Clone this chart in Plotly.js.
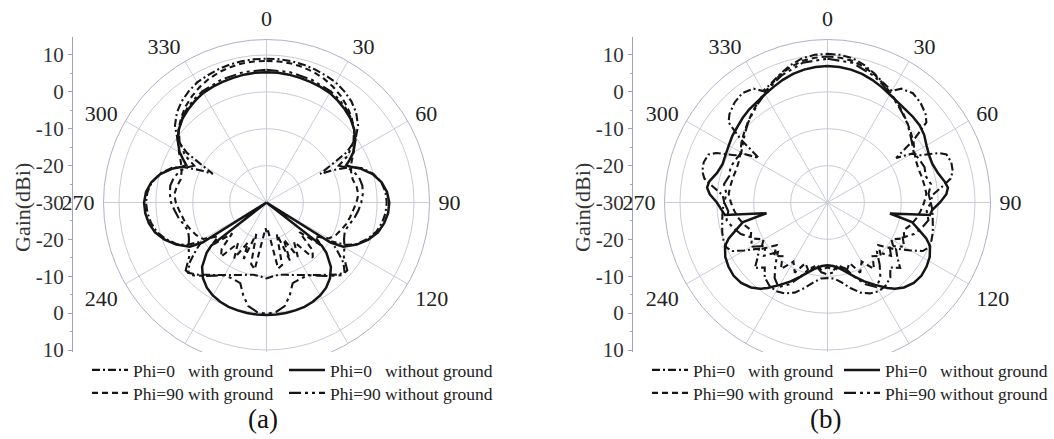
<!DOCTYPE html>
<html>
<head>
<meta charset="utf-8">
<script src="https://cdn.plot.ly/plotly-3.0.1.min.js"></script>
<style>html,body{margin:0;padding:0;background:#fff}#chart{width:1054px;height:439px}</style>
</head>
<body>
<div id="chart"></div>
<script>
// ---------- data (gain in dBi vs. theta in degrees) ----------
// (a)
const a_p0_nog_theta = [0,5,10,15,20,25,30,35,40,45,50,55,60,63,65,67,70,75,80,85,90,95,100,105,110,115,120,122,124,126,128,130,135,140,145,150,155,160,165,170,175,180,
  185,190,195,200,205,210,215,220,225,230,232,234,236,238,240,245,250,255,260,265,270,275,280,285,290,293,295,297,300,305,310,315,320,325,330,335,340,345,350,355,360];
const a_p0_nog_r = [5.3,5.3,5.2,5.0,4.8,4.6,4.3,3.7,3.0,2.2,1.0,-0.6,-2.8,-4.8,-6.2,-5.2,-3.0,-0.2,1.7,2.8,3.3,3.1,2.4,1.3,-0.6,-3.0,-6.0,-9.5,-30,-30,-11,-8.8,-5.3,-3.2,-1.8,-0.9,-0.3,0.1,0.3,0.4,0.5,0.5,
  0.5,0.4,0.3,0.1,-0.3,-0.9,-1.8,-3.2,-5.3,-8.8,-11,-30,-30,-9.5,-6.0,-3.0,-0.6,1.3,2.4,3.0,3.2,2.8,1.7,-0.2,-3.0,-5.2,-6.0,-4.8,-2.8,-0.6,1.0,2.2,3.0,3.7,4.3,4.6,4.8,5.0,5.2,5.3,5.3];

const a_p0_g_theta = [0,5,10,15,20,25,30,35,40,45,50,55,58,62,64,67,70,75,80,85,90,95,100,105,110,115,118,121,124,128,132,136,140,145,150,155,160,165,170,175,180,
  185,190,195,200,205,210,215,220,224,228,232,236,239,242,245,250,255,260,265,270,275,280,285,290,293,296,298,302,305,310,315,320,325,330,335,340,345,350,355,360];
const a_p0_g_r = [9.0,9.0,8.9,8.7,8.4,8.0,7.6,6.8,5.8,4.4,2.4,-0.6,-4.5,-13.5,-10,-5.4,-2.6,0.0,1.6,2.4,2.6,2.4,1.8,0.8,-1.0,-3.2,-5.5,-9.5,-7.0,-3.5,-1.5,-2.8,-4.4,-6.0,-7.3,-8.3,-9.1,-9.7,-10.1,-9.9,-9.4,
  -9.9,-10.1,-9.7,-9.1,-8.3,-7.3,-6.0,-4.4,-2.8,-1.5,-3.5,-7.0,-9.5,-5.5,-3.2,-1.0,0.8,1.8,2.4,2.7,2.4,1.6,0.0,-2.6,-5.4,-10,-13.5,-4.5,-0.6,2.4,4.4,5.8,6.8,7.6,8.0,8.4,8.7,8.9,9.0,9.0];

const a_p90_g_theta = [0,5,10,15,20,25,30,35,40,45,50,55,60,65,70,75,80,85,90,95,100,105,110,115,120,125,128,132,136,140,145,150,155,158,162,166,170,174,178,180,
  182,186,190,194,198,202,205,210,215,220,224,228,232,235,240,245,250,255,260,265,270,275,280,285,290,295,300,305,310,315,320,325,330,335,340,345,350,355,360];
const a_p90_g_r = [8.4,8.4,8.3,8.0,7.6,7.0,6.2,5.2,4.0,2.6,1.0,-0.8,-2.8,-4.6,-5.6,-5.8,-5.2,-5.0,-5.6,-6.4,-7.0,-7.6,-8.4,-9.2,-10.5,-14,-11,-18,-12,-10.5,-17,-13,-19,-13,-21,-12.5,-11.8,-20,-23,-22,
  -23,-20,-11.6,-12.8,-21,-13.5,-18,-12.5,-16.5,-10.8,-12.5,-17.5,-11.2,-14,-10.2,-9.0,-8.2,-7.4,-6.9,-6.2,-5.4,-4.9,-5.3,-5.9,-5.5,-4.4,-2.6,-0.7,1.1,2.7,4.1,5.2,6.2,7.0,7.6,8.0,8.3,8.4,8.4];

const a_p90_nog_theta = [0,10,20,30,35,40,45,50,55,60,63,66,70,75,80,85,90,95,100,105,110,115,120,125,130,134,140,145,150,156,162,166,170,175,180,
  185,190,194,198,204,210,215,220,226,230,235,240,245,250,255,260,265,270,275,280,285,290,294,297,300,305,310,315,320,325,330,340,350,360];
const a_p90_nog_r = [6.0,5.9,5.5,4.8,4.2,3.4,2.4,1.0,-1.2,-4.5,-8,-6.5,-5.0,-4.0,-3.6,-3.8,-4.3,-5.0,-5.8,-6.8,-7.4,-6.8,-5.6,-4.4,-1.4,-1.6,-4.0,-5.8,-7.2,-7.4,-7.0,-4.0,-1.5,-0.2,0.2,
  -0.2,-1.5,-4.0,-7.0,-7.4,-7.2,-5.8,-4.0,-1.6,-1.4,-4.4,-5.6,-6.8,-7.4,-6.8,-5.8,-5.0,-4.1,-3.7,-3.5,-4.0,-5.0,-6.5,-8,-4.5,-1.2,1.0,2.4,3.4,4.2,4.8,5.5,5.9,6.0];

// (b)
const b_p0_nog_theta = [0,5,10,15,20,25,30,35,40,45,50,55,60,65,70,75,80,83,86,90,94,97,100,103,107,110,113,118,123,128,133,138,142,145,150,155,160,165,170,175,180,
  185,190,195,200,205,210,215,218,222,227,232,237,242,247,250,253,257,260,263,266,270,274,277,280,285,290,295,300,305,310,315,320,325,330,335,340,345,350,355,360];
const b_p0_nog_r = [7.0,6.9,6.6,6.1,5.4,4.6,3.8,3.2,2.9,2.8,2.6,2.0,1.0,0.4,0.3,1.0,2.3,2.9,2.3,0.5,-1.5,-2.0,-12.8,-6.5,-3.9,-1.5,0.2,1.4,2.0,2.3,2.0,1.0,-0.3,-1.7,-4.2,-6.4,-8.6,-10.5,-11.9,-12.7,-13.0,
  -12.7,-11.9,-10.5,-8.6,-6.4,-4.2,-1.7,-0.3,1.0,2.0,2.3,2.0,1.4,0.2,-1.5,-3.9,-6.5,-13.2,-2.0,-1.2,0.0,2.0,2.9,2.6,1.0,0.3,0.5,0.9,1.5,1.9,2.5,3.0,3.3,3.9,4.6,5.4,6.1,6.6,6.9,7.0];

const b_p0_g_theta = [0,5,10,15,20,25,30,33,38,43,48,51,54,57,60,63,66,68,72,76,79,82,86,90,94,98,102,106,110,114,117,120,124,128,132,136,140,145,150,155,160,165,170,175,180,
  185,190,195,200,205,210,215,220,224,228,232,236,240,243,246,250,254,258,262,266,270,274,278,281,284,288,292,294,297,300,303,306,309,312,317,322,327,330,335,340,345,350,355,360];
const b_p0_g_r = [10.3,10.2,9.7,8.6,7.2,5.8,4.9,6.8,7.6,7.0,5.8,4.5,-1.0,-7.8,-3.5,-1.8,3.0,4.8,5.3,5.0,4.0,1.5,-1.5,-2.0,-1.5,-1.2,-0.8,-0.3,0.0,0.0,-1.0,-4.0,-7.6,-6.0,-3.5,-5.5,-3.5,-2.5,-2.2,-2.8,-4.0,-6.0,-8.0,-9.3,-9.5,
  -9.3,-8.0,-6.0,-4.0,-2.8,-2.2,-2.5,-3.5,-5.5,-3.5,-6.0,-7.6,-4.0,-1.0,0.0,0.0,-0.3,-0.8,-1.2,-1.5,-2.0,-1.5,1.5,4.0,5.0,5.3,4.8,3.0,-1.8,-3.5,-7.8,-1.0,4.5,5.8,7.0,7.6,6.8,4.9,5.8,7.2,8.6,9.7,10.2,10.3];

const b_p90_g_theta = [0,5,10,15,20,25,30,35,40,45,50,55,60,65,70,75,80,85,90,95,100,105,110,115,120,125,130,135,140,145,150,155,160,165,170,175,180,
  185,190,195,200,205,210,215,220,225,230,235,240,245,250,255,260,265,270,275,280,285,290,295,300,305,310,315,320,325,330,335,340,345,350,355,360];
const b_p90_g_r = [9.6,9.4,9.0,8.1,7.0,5.6,4.3,3.0,1.8,0.6,-0.5,-1.5,-2.8,-3.5,-3.7,-3.5,-3.3,-3.1,-3.8,-4.6,-5.5,-6.6,-8.0,-7.0,-10.0,-8.0,-12.0,-9.5,-11.0,-8.0,-11.5,-9.0,-12.5,-10.5,-13.0,-11.5,-12.5,
  -11.5,-13.0,-10.5,-12.5,-9.0,-11.5,-8.0,-11.0,-9.5,-12.0,-8.0,-10.0,-7.0,-8.0,-6.6,-5.5,-4.6,-3.8,-3.1,-3.3,-3.5,-3.7,-3.5,-2.8,-1.5,-0.5,0.6,1.8,3.0,4.3,5.6,7.0,8.1,9.0,9.4,9.6];

const b_p90_nog_theta = [0,10,20,25,30,35,40,45,50,55,60,65,70,75,80,85,90,95,100,105,110,115,120,125,130,135,140,145,150,155,160,165,170,175,180,
  185,190,195,200,205,210,215,220,225,230,235,240,245,250,255,260,265,270,275,280,285,290,295,300,305,310,315,320,325,330,335,340,350,360];
const b_p90_nog_r = [9.0,8.5,6.6,5.3,4.0,2.8,1.6,0.5,-0.8,-2.0,-3.0,-2.5,-2.0,-2.4,-1.5,-2.5,-2.0,-3.0,-2.2,-3.5,-5.0,-7.5,-6.0,-9.5,-7.5,-11.0,-8.0,-5.0,-3.5,-5.5,-8.5,-11.5,-12.5,-11.0,-10.5,
  -11.0,-12.5,-11.5,-8.5,-5.5,-3.5,-5.0,-8.0,-11.0,-7.5,-9.5,-6.0,-7.5,-5.0,-3.5,-2.2,-3.0,-2.0,-2.5,-1.5,-2.4,-2.0,-2.5,-3.0,-2.0,-0.8,0.5,1.6,2.8,4.0,5.3,6.6,8.5,9.0];

// axis labels
const seriesNames = ['Phi=0\u00a0\u00a0\u00a0with ground', 'Phi=0\u00a0\u00a0\u00a0without ground', 'Phi=90 with ground', 'Phi=90 without ground'];
const angTickVals = [0,30,60,90,120,150,180,210,240,270,300,330];
const angTickText = ['0','30','60','90','120','','','','240','270','300','330'];
const radialRange = [-30, 14.2];
const radialGrid = [-20,-10,0,10];
const sideTickPos = [40,30,20,10,0,-10,-20,-30,-40];
const sideTickText = ['10','0','-10','-20','-30','-20','-10','0','10'];
const panelLabels = ['(a)', '(b)'];
const yTitle = 'Gain(dBi)';

// ---------- styling / layout ----------
const W = 1054, H = 439;
const SERIF = 'Liberation Serif, Times New Roman, DejaVu Serif, serif';
const INK = '#151515';
const GRID = '#c9ccd8';
const AXC = '#9ea3b8';
const R_PX = 163;          // outer circle radius in px
const CY = 202.5;          // centre y in px
const CX = [266.5, 827.5]; // centre x in px
const AXIS_X = [72, 632];
const pxPerDb = (R_PX) / (radialRange[1] - radialRange[0]);

const styles = [
  {dash: '8px,3px,2px,3px', width: 2.1},          // Phi=0 with ground
  {dash: 'solid', width: 2.5},                    // Phi=0 without ground
  {dash: '6px,4px', width: 2.1},                  // Phi=90 with ground
  {dash: '12px,4px,3px,4px,3px,4px', width: 2.1}  // Phi=90 without ground
];

// legend slots: [x of legend box, top y] in px, one legend per entry
const legendSlots = [
  [[87, 352], [284, 352], [87, 375], [284, 375]],
  [[647, 352], [839, 352], [647, 375], [839, 375]]
];

const panels = [
  {sub: 'polar',
   sets: [[a_p0_g_theta, a_p0_g_r], [a_p0_nog_theta, a_p0_nog_r], [a_p90_g_theta, a_p90_g_r], [a_p90_nog_theta, a_p90_nog_r]]},
  {sub: 'polar2',
   sets: [[b_p0_g_theta, b_p0_g_r], [b_p0_nog_theta, b_p0_nog_r], [b_p90_g_theta, b_p90_g_r], [b_p90_nog_theta, b_p90_nog_r]]}
];

const traces = [];
const legendLayouts = {};
function legendCfg(x, yTop) {
  return {x: x / W, y: 1 - yTop / H, xanchor: 'left', yanchor: 'top',
    bgcolor: 'rgba(255,255,255,0)', borderwidth: 0, itemwidth: 36,
    font: {family: SERIF, size: 17.5, color: '#222'}, itemclick: false};
}
let legIdx = 0;
panels.forEach((p, k) => {
  p.sets.forEach((s, i) => {
    legIdx += 1;
    const lid = legIdx === 1 ? 'legend' : 'legend' + legIdx;
    legendLayouts[lid] = legendCfg(legendSlots[k][i][0], legendSlots[k][i][1]);
    traces.push({
      type: 'scatterpolar', subplot: p.sub, mode: 'lines',
      theta: s[0], r: s[1], name: seriesNames[i],
      legend: lid,
      line: {color: INK, width: styles[i].width, dash: styles[i].dash},
      hoverinfo: 'skip'
    });
  });
});
// empty cartesian traces so that the side gain scales are drawn
traces.push({type: 'scatter', x: [], y: [], xaxis: 'x', yaxis: 'y', showlegend: false, hoverinfo: 'skip'});
traces.push({type: 'scatter', x: [], y: [], xaxis: 'x', yaxis: 'y2', showlegend: false, hoverinfo: 'skip'});

function polarDomain(cx) {
  return {x: [(cx - R_PX) / W, (cx + R_PX) / W], y: [1 - (CY + R_PX) / H, 1 - (CY - R_PX) / H]};
}
function polarCfg(cx) {
  return {
    domain: polarDomain(cx),
    bgcolor: 'rgba(0,0,0,0)',
    radialaxis: {range: radialRange, tickmode: 'array', tickvals: radialGrid, showticklabels: false,
      ticks: '', showline: false, gridcolor: GRID, gridwidth: 1},
    angularaxis: {rotation: 90, direction: 'clockwise', tickmode: 'array', tickvals: angTickVals, ticktext: angTickText,
      showline: true, linecolor: '#aeb2c4', linewidth: 1, gridcolor: GRID, gridwidth: 1,
      ticks: 'outside', ticklen: 4, tickcolor: 'rgba(0,0,0,0)',
      tickfont: {family: SERIF, size: 22, color: '#222'}}
  };
}
const axTop = 37, axBot = 352;
function sideAxis(px) {
  return {
    anchor: 'free', position: px / W,
    domain: [1 - axBot / H, 1 - axTop / H],
    range: [-(axBot - CY) / pxPerDb, (CY - axTop) / pxPerDb],
    tickmode: 'array', tickvals: sideTickPos, ticktext: sideTickText,
    ticks: 'outside', ticklen: 4, tickcolor: AXC, tickwidth: 1,
    showline: true, linecolor: AXC, linewidth: 1.2, showgrid: false, zeroline: false,
    tickfont: {family: SERIF, size: 21, color: '#333'},
    minor: {tickmode: 'linear', tick0: 0, dtick: 5, ticks: 'outside', ticklen: 2.5, tickcolor: AXC, showgrid: false},
    fixedrange: true
  };
}

const annotations = [];
[0, 1].forEach((k) => {
  annotations.push({text: yTitle, textangle: -90, xref: 'paper', yref: 'paper',
    x: (AXIS_X[k] - 50) / W, y: 1 - 208 / H, xanchor: 'center', yanchor: 'middle', showarrow: false,
    font: {family: SERIF, size: 22, color: '#333'}});
  annotations.push({text: panelLabels[k], xref: 'paper', yref: 'paper',
    x: [263, 825][k] / W, y: 1 - 419 / H, xanchor: 'center', yanchor: 'middle', showarrow: false,
    font: {family: SERIF, size: 27, color: '#111'}});
});

// white panels under the legends (they hide the lower rim of the polar frames, as in the original)
const shapes = [
  {type: 'rect', xref: 'paper', yref: 'paper', x0: 80 / W, x1: 500 / W, y0: 1 - 410 / H, y1: 1 - 352 / H,
   fillcolor: '#ffffff', line: {width: 0}, layer: 'above'},
  {type: 'rect', xref: 'paper', yref: 'paper', x0: 640 / W, x1: 1, y0: 1 - 410 / H, y1: 1 - 352 / H,
   fillcolor: '#ffffff', line: {width: 0}, layer: 'above'}
];

const layout = Object.assign({
  width: W, height: H, margin: {l: 0, r: 0, t: 0, b: 0, autoexpand: false},
  paper_bgcolor: '#ffffff', plot_bgcolor: 'rgba(0,0,0,0)',
  showlegend: true,
  polar: polarCfg(CX[0]),
  polar2: polarCfg(CX[1]),
  xaxis: {domain: [0, 0.001], range: [0, 1], visible: false, fixedrange: true},
  yaxis: sideAxis(AXIS_X[0]),
  yaxis2: sideAxis(AXIS_X[1]),
  shapes: shapes,
  annotations: annotations
}, legendLayouts);

Plotly.newPlot('chart', traces, layout, {staticPlot: true, displayModeBar: false});
</script>
</body>
</html>
